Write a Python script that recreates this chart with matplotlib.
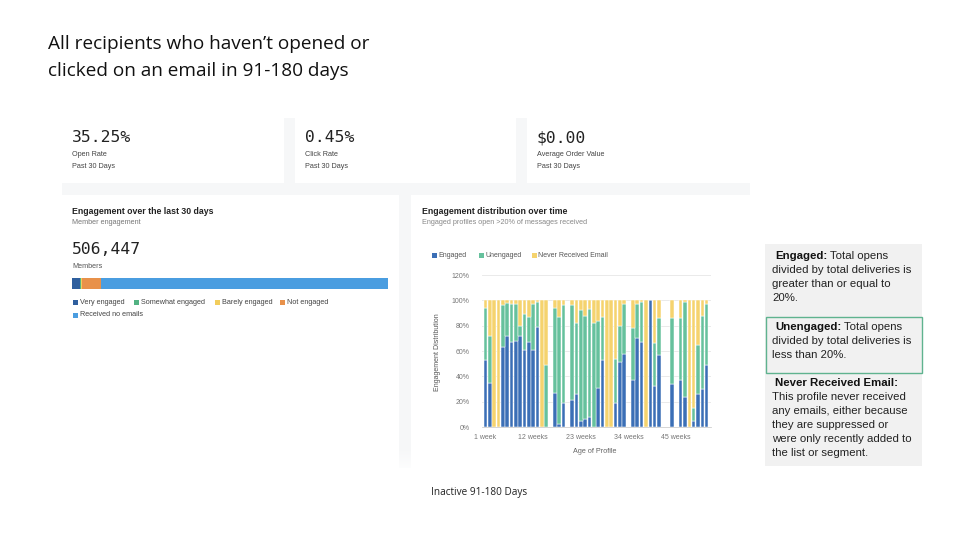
import matplotlib
matplotlib.use('Agg')
import matplotlib.pyplot as plt
from matplotlib.patches import Rectangle
import numpy as np

W, H = 960, 540

# ---------------- data ----------------
weeks = list(range(1, 53))
engaged = [53, 35, 0, 0, 63, 72, 67, 68, 72, 61, 67, 61, 79, 0, 0, 0, 27, 2, 19, 0,
           21, 26, 5, 6, 8, 0, 31, 53, 0, 0, 19, 51, 58, 0, 37, 70, 67, 0, 100, 32,
           57, 0, 0, 34, 0, 37, 24, 0, 5, 26, 30, 49]
unengaged = [41, 37, 0, 0, 33, 26, 30, 29, 8, 28, 20, 36, 20, 0, 49, 0, 67, 85, 77, 0,
             75, 56, 87, 82, 85, 82, 53, 34, 0, 0, 35, 29, 39, 0, 41, 27, 32, 0, 0, 34,
             29, 0, 0, 52, 0, 49, 75, 0, 10, 39, 58, 48]
never_received = [6, 28, 100, 100, 4, 2, 3, 3, 20, 11, 13, 3, 1, 100, 51, 0, 6, 13, 4, 0,
                  4, 18, 8, 12, 7, 18, 16, 13, 100, 100, 46, 20, 3, 0, 22, 3, 1, 100, 0, 34,
                  14, 0, 0, 14, 0, 14, 1, 100, 85, 35, 12, 3]
series_names = ['Engaged', 'Unengaged', 'Never Received Email']
xtick_weeks = [1, 12, 23, 34, 45]
xtick_labels = ['1 week', '12 weeks', '23 weeks', '34 weeks', '45 weeks']
ytick_vals = [0, 20, 40, 60, 80, 100, 120]
ytick_labels = ['0%', '20%', '40%', '60%', '80%', '100%', '120%']

member_categories = ['Very engaged', 'Somewhat engaged', 'Barely engaged', 'Not engaged',
                     'Received no emails']
member_shares = [2.4, 0.4, 0.4, 6.0, 90.8]
member_total = '506,447'

kpi_values = ['35.25%', '0.45%', '$0.00']
kpi_labels = ['Open Rate', 'Click Rate', 'Average Order Value']
kpi_period = 'Past 30 Days'

title_lines = ["All recipients who haven\u2019t opened or", "clicked on an email in 91-180 days"]
caption = 'Inactive 91-180 Days'

notes = [
    ('Engaged:', ' Total opens', ['divided by total deliveries is', 'greater than or equal to', '20%.']),
    ('Unengaged:', ' Total opens', ['divided by total deliveries is', 'less than 20%.']),
    ('Never Received Email:', '', ['This profile never received', 'any emails, either because',
                                   'they are suppressed or', 'were only recently added to',
                                   'the list or segment.']),
]

# ---------------- style ----------------
BLUE = '#3b6fb6'
GREEN = '#66c19d'
YELLOW = '#f5d36e'
member_colors = ['#2f5f9e', '#52b282', '#f2cd5c', '#e8914a', '#4a9de0']
UI = 'Liberation Sans'
MONO = 'DejaVu Sans Mono'
HEAD = 'Open Sans'

fig = plt.figure(figsize=(W / 100, H / 100), dpi=100)
fig.patch.set_facecolor('white')


def fx(x):
    return x / W


def fy(y):
    return 1 - y / H


def rect(x0, y0, x1, y1, **kw):
    r = Rectangle((fx(x0), fy(y1)), (x1 - x0) / W, (y1 - y0) / H,
                  transform=fig.transFigure, **kw)
    fig.add_artist(r)
    return r


def text(x, y, s, **kw):
    kw.setdefault('va', 'center')
    kw.setdefault('ha', 'left')
    kw.setdefault('zorder', 3)
    return fig.text(fx(x), fy(y), s, **kw)


# title
text(48, 44, title_lines[0], fontsize=13.7, family=HEAD, color='#111111')
text(48, 71, title_lines[1], fontsize=13.7, family=HEAD, color='#111111')

# dashboard background and cards
rect(62, 118, 750, 468, facecolor='#f6f7f8', edgecolor='none', zorder=-3)
cards = [(62, 118, 284, 183), (295, 118, 516, 183), (527, 118, 750, 183),
         (62, 195, 399, 468), (411, 195, 750, 468)]
for c in cards:
    rect(*c, facecolor='white', edgecolor='none', zorder=-2)

# KPI cards
kpi_x = [72, 305, 537]
for xk, v, lab in zip(kpi_x, kpi_values, kpi_labels):
    text(xk, 138, v, fontsize=11.8, family=MONO, color='#222222')
    text(xk, 155, lab, fontsize=5.2, family=UI, color='#444444')
    text(xk, 167, kpi_period, fontsize=5.2, family=UI, color='#444444')

# Left card
text(72, 212, 'Engagement over the last 30 days', fontsize=6.3, family=UI,
     color='#222222', weight='bold')
text(72, 223, 'Member engagement', fontsize=5.2, family=UI, color='#777777')
text(72, 249, member_total, fontsize=11.8, family=MONO, color='#222222')
text(72, 266, 'Members', fontsize=5.2, family=UI, color='#555555')

axm = fig.add_axes([fx(72), fy(289), (388 - 72) / W, 11 / H])
lefts = np.concatenate([[0], np.cumsum(member_shares)[:-1]])
axm.barh([0] * len(member_shares), member_shares, left=lefts, height=1.0,
         color=member_colors, edgecolor='none')
axm.set_xlim(0, sum(member_shares))
axm.set_ylim(-0.5, 0.5)
axm.axis('off')

leg_pos = [(73, 302), (134, 302), (215, 302), (280, 302), (73, 315)]
for (lx, ly), name, col in zip(leg_pos, member_categories, member_colors):
    rect(lx, ly - 2.5, lx + 5, ly + 2.5, facecolor=col, edgecolor='none', zorder=2)
    text(lx + 7, ly, name, fontsize=5.2, family=UI, color='#444444')

# Right card
text(422, 212, 'Engagement distribution over time', fontsize=6.3, family=UI,
     color='#222222', weight='bold')
text(422, 223, 'Engaged profiles open >20% of messages received', fontsize=5.2,
     family=UI, color='#888888')

leg2 = [(434, 'Engaged', BLUE), (481, 'Unengaged', GREEN), (534, 'Never Received Email', YELLOW)]
for lx, name, col in leg2:
    rect(lx - 2.5, 253, lx + 2.5, 258, facecolor=col, edgecolor='none', zorder=2)
    text(lx + 4, 255.5, name, fontsize=5, family=UI, color='#555555')

ax = fig.add_axes([fx(482), fy(427), (711 - 482) / W, (427 - 275) / H])
ax.set_zorder(1)
ax.set_facecolor('none')
eng = np.array(engaged)
une = np.array(unengaged)
nev = np.array(never_received)
bw = 0.82
ax.bar(weeks, eng, width=bw, color=BLUE, edgecolor='white', linewidth=0.35, zorder=2)
ax.bar(weeks, une, bottom=eng, width=bw, color=GREEN, edgecolor='white', linewidth=0.35, zorder=2)
ax.bar(weeks, nev, bottom=eng + une, width=bw, color=YELLOW, edgecolor='white', linewidth=0.35, zorder=2)
ax.set_xlim(0.2, 53)
ax.set_ylim(0, 120)
ax.set_yticks(ytick_vals)
ax.set_yticklabels(ytick_labels)
ax.set_xticks(xtick_weeks)
ax.set_xticklabels(xtick_labels)
ax.yaxis.grid(True, color='#e6e6e6', linewidth=0.6, zorder=0)
ax.set_axisbelow(True)
for s in ['top', 'right', 'left']:
    ax.spines[s].set_visible(False)
ax.spines['bottom'].set_color('#cfcfcf')
ax.spines['bottom'].set_linewidth(0.6)
ax.tick_params(axis='both', length=0, labelsize=5, labelcolor='#777777')
ax.tick_params(axis='y', pad=9)
ax.tick_params(axis='x', pad=5)
for lab in ax.get_xticklabels() + ax.get_yticklabels():
    lab.set_family(UI)
ax.set_ylabel('Engagement Distribution', fontsize=5, family=UI, color='#555555')
ax.yaxis.set_label_coords(-0.179, 0.49)
ax.set_xlabel('Age of Profile', fontsize=5.2, family=UI, color='#555555')
ax.xaxis.set_label_coords(0.493, -0.14)

# bottom fade of the dashboard screenshot
axf = fig.add_axes([fx(62), fy(470), (750 - 62) / W, 22 / H])
axf.set_zorder(4)
grad = np.zeros((50, 2, 4))
grad[..., :3] = 1.0
grad[..., 3] = np.linspace(0, 0.85, 50)[:, None]
axf.imshow(grad, aspect='auto', extent=[0, 1, 0, 1], origin='upper')
axf.axis('off')

# caption
text(479, 493, caption, fontsize=7.2, family=HEAD, color='#222222', ha='center')

# notes panel
rect(765, 244, 922, 466, facecolor='#f1f1f1', edgecolor='none', zorder=1)
rect(766, 317, 921.5, 373, facecolor='#f1f1f1', edgecolor='#5fb38f', linewidth=1.0, zorder=2)

fig.canvas.draw()
renderer = fig.canvas.get_renderer()
note_fs = 8.2
starts = [256, 327, 383]
for (bold, rest, lines), y0 in zip(notes, starts):
    t = text(775, y0, bold, fontsize=note_fs, family=UI, weight='bold', color='#111111')
    if rest:
        bb = t.get_window_extent(renderer)
        text(bb.x1, y0, rest, fontsize=note_fs, family=UI, color='#222222')
    for i, ln in enumerate(lines):
        text(772, y0 + 14 * (i + 1), ln, fontsize=note_fs, family=UI, color='#222222')

fig.savefig('out.png', dpi=100, facecolor='white')
